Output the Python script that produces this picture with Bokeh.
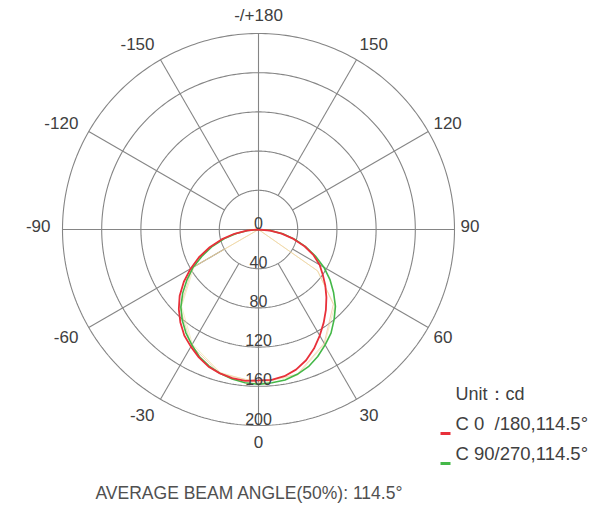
import numpy as np
from bokeh.plotting import figure
from bokeh.models import Label
from bokeh.embed import file_html
from bokeh.resources import INLINE

# ---------------- data ----------------
angles = list(range(-90, 91, 5))
c0_180 = [0, 12, 25, 39, 53, 67, 80, 93, 105, 115, 124, 132, 138, 144, 149, 152, 154, 155,
          154,
          154, 152, 148, 142, 134, 125, 116, 107, 98, 89, 80, 72, 62, 50, 37, 24, 12, 0]
c90_270 = [0, 11, 23, 36, 50, 63, 77, 89, 101, 112, 121, 129, 136, 143, 148, 152, 155, 157,
           158,
           157, 156, 153, 149, 143, 136, 129, 120, 111, 100, 89, 77, 64, 51, 38, 25, 12, 0]
faint_angles = [-90, -60, -45, -30, -15, 0, 15, 30, 45, 55, 90]
faint_a = [0, 78, 113, 137, 152, 156, 153, 134, 108, 74, 0]
faint_b = [0, 76, 111, 135, 151, 157, 154, 135, 110, 73, 0]
ring_values = [40, 80, 120, 160, 200]
ring_labels = ["0", "40", "80", "120", "160", "200"]
spoke_angles = [-150, -120, -60, -30, 30, 60, 120, 150]
angle_ticks = [180, 150, 120, 90, 60, 30, 0, -30, -60, -90, -120, -150]
angle_tick_labels = ["-/+180", "150", "120", "90", "60", "30", "0", "-30", "-60", "-90", "-120", "-150"]
legend_names = ["C 0\u00a0\u00a0/180,114.5°", "C 90/270,114.5°"]
unit_text = "Unit：cd"
title_text = "AVERAGE BEAM ANGLE(50%): 114.5°"

RED = "#e8303a"
GREEN = "#44b848"
GRID = "#858585"
TXT = "#404040"
FONT = "Liberation Sans"

W, H = 596, 508
S = 0.98            # pixels per cd
CX, CY = 258, 229   # centre of polar plot in canvas pixels

x0 = -CX / S
x1 = (W - CX) / S
y1 = CY / S
y0 = -(H - CY) / S

p = figure(width=W, height=H, x_range=(x0, x1), y_range=(y0, y1),
           output_backend="svg", toolbar_location=None,
           min_border=0, min_border_left=0, min_border_right=0,
           min_border_top=0, min_border_bottom=0)
p.axis.visible = False
p.grid.visible = False
p.outline_line_color = None
p.background_fill_color = "white"
p.border_fill_color = "white"


def pol(r, a_deg):
    a = np.radians(np.asarray(a_deg, dtype=float))
    r = np.asarray(r, dtype=float)
    return r * np.sin(a), -r * np.cos(a)


# rings
t = np.linspace(0, 360, 361)
xs, ys = [], []
for rv in ring_values:
    x, y = pol(np.full_like(t, rv), t)
    xs.append(list(x)); ys.append(list(y))
p.multi_line(xs, ys, line_color=GRID, line_width=1.1)

# spokes
rmax = ring_values[-1]
rmin = ring_values[0]
sx, sy = [], []
for a in spoke_angles:
    xa, ya = pol([rmin, rmax], [a, a])
    sx.append(list(xa)); sy.append(list(ya))
for a in [0, 90]:
    xa, ya = pol([rmax, rmax], [a, a + 180])
    sx.append(list(xa)); sy.append(list(ya))
p.multi_line(sx, sy, line_color=GRID, line_width=1.1)

# ring labels (along the downward axis, just above each ring)
rl_r = [0] + ring_values
for rv, lab in zip(rl_r, ring_labels):
    p.add_layout(Label(x=0, y=-rv + 7 / S, text=lab, text_align="center",
                       text_baseline="middle", text_font=FONT,
                       text_font_size="16px", text_color=TXT))

# angle labels
for a, lab in zip(angle_ticks, angle_tick_labels):
    s = np.sin(np.radians(a)); c = np.cos(np.radians(a))
    yy = -(214 * c) / S
    if abs(s) < 1e-6:
        xx, al = 0, "center"
        if a == 0:
            yy = -(212) / S
    elif s > 0:
        xx, al = (202 * s) / S, "left"
    else:
        xx, al = (208 * s) / S, "right"
    if abs(c) < 1e-6:
        yy += 4 / S
    p.add_layout(Label(x=xx, y=yy, text=lab, text_align=al, text_baseline="middle",
                       text_font=FONT, text_font_size="17px", text_color=TXT))

# faint curves
fx, fy = pol(faint_a, faint_angles)
p.line(fx, fy, line_color="#f2b48a", line_width=1, line_alpha=0.6)
fx, fy = pol(faint_b, faint_angles)
p.line(fx, fy, line_color="#e9e3a0", line_width=1, line_alpha=0.6)

# main curves
gx, gy = pol(c90_270, angles)
p.line(gx, gy, line_color=GREEN, line_width=1.6)
rx, ry = pol(c0_180, angles)
p.line(rx, ry, line_color=RED, line_width=1.8)


# legend / texts in canvas pixel positions
def dx(px):
    return (px - CX) / S


def dy(py):
    return -(py - CY) / S


p.add_layout(Label(x=dx(455), y=dy(393), text=unit_text, text_align="left",
                   text_baseline="middle", text_font=FONT, text_font_size="18px",
                   text_color=TXT))
for i, (name, col) in enumerate(zip(legend_names, [RED, GREEN])):
    ty = 423 + i * 30
    p.add_layout(Label(x=dx(455), y=dy(ty), text=name, text_align="left",
                       text_baseline="middle", text_font=FONT, text_font_size="18.5px",
                       text_color=TXT))
    p.segment(x0=[dx(440)], y0=[dy(ty + 10)], x1=[dx(450)], y1=[dy(ty + 10)],
              line_color=col, line_width=3)

p.add_layout(Label(x=dx(95), y=dy(492), text=title_text, text_align="left",
                   text_baseline="middle", text_font=FONT, text_font_size="17.5px",
                   text_color="#505050"))

open("out.html", "w").write(file_html(p, INLINE))
